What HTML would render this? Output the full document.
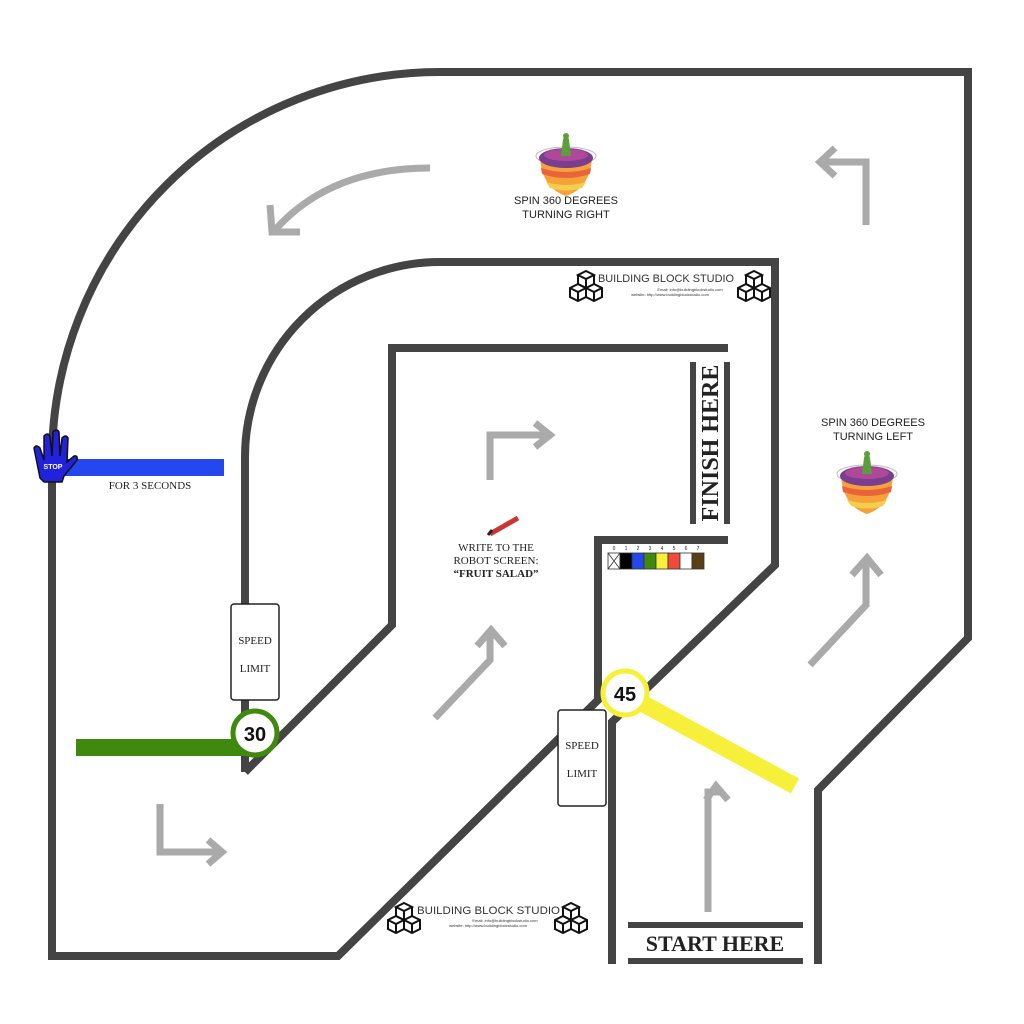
<!DOCTYPE html>
<html><head><meta charset="utf-8"><style>
html,body{margin:0;padding:0;background:#fff;}
svg{display:block;}
.s{font-family:"Liberation Sans",sans-serif;}
.r{font-family:"Liberation Serif",serif;}
</style></head><body>
<svg width="1024" height="1024" viewBox="0 0 1024 1024" xmlns="http://www.w3.org/2000/svg" class="s">
<defs>
<g id="spin">
  <ellipse cx="0" cy="8" rx="30" ry="9" fill="none" stroke="#bbb" stroke-width="1"/>
  <path d="M-26,10 Q-24,40 0,48 Q24,40 26,10 Z" fill="#f6a23a"/>
  <path d="M-25,20 Q0,28 25,20 L24,26 Q0,34 -24,26 Z" fill="#e9643a"/>
  <path d="M-20,34 Q0,40 20,34 L16,40 Q0,45 -16,40 Z" fill="#f4cf4e"/>
  <ellipse cx="0" cy="10" rx="27" ry="10" fill="#7a3d8f"/>
  <ellipse cx="0" cy="7" rx="22" ry="6" fill="#b0489a"/>
  <path d="M-5,8 L-3,-8 Q0,-20 3,-8 L5,8 Z" fill="#5aa03a"/>
  <circle cx="0" cy="-12" r="3" fill="#5aa03a"/>
</g>
<g id="cube" fill="none" stroke="#111" stroke-width="2">
  <path d="M0,-9 L8,-5 L0,-1 L-8,-5 Z M-8,-5 L-8,4 L0,8 L8,4 L8,-5 M0,-1 L0,8"/>
  <path d="M-8,4 L0,8 L0,17 L-8,21 L-16,17 L-16,8 Z M-16,8 L-8,12 L0,8 M-8,12 L-8,21"/>
  <path d="M8,4 L16,8 L16,17 L8,21 L0,17 M0,8 L8,12 L16,8 M8,12 L8,21"/>
</g>
</defs>

<g fill="none" stroke="#444" stroke-width="8" stroke-linejoin="miter">
  <path d="M52,960 L52,460 A388,388 0 0 1 440,72 L968,72 L968,638 L818,790 L818,964"/>
  <path d="M52,956 L338,956 L598,700 L598,540 L728,540"/>
  <path d="M245,772 L245,458 A195,195 0 0 1 440,262 L775,262 L775,565 L612,722 L612,964"/>
  <path d="M245,772 L392,625 L392,348 L728,348"/>
</g>
<rect x="690" y="362" width="6" height="162" fill="#444"/>
<rect x="724" y="362" width="6" height="162" fill="#444"/>
<text class="r" transform="translate(718,443) rotate(-90)" text-anchor="middle" font-weight="bold" font-size="24" fill="#222">FINISH HERE</text>
<rect x="628" y="922" width="175" height="6" fill="#444"/>
<rect x="628" y="958" width="175" height="6" fill="#444"/>
<text class="r" x="715" y="951" text-anchor="middle" font-weight="bold" font-size="22" fill="#222">START HERE</text>

<g fill="none" stroke="#aaa" stroke-width="7">
  <path d="M430,168 Q330,168 275,230"/><path d="M270,205 L272,232 L300,232"/>
  <path d="M866,225 L866,162 L820,162"/><path d="M835,148 L820,162 L835,176"/>
  <path d="M490,480 L490,435 L548,435"/><path d="M535,423 L550,435 L535,447"/>
  <path d="M435,718 L490,660 L490,632"/><path d="M477,646 L491,630 L505,646"/>
  <path d="M810,665 L866,605 L866,560"/><path d="M852,575 L867,558 L881,575"/>
  <path d="M708,912 L708,792 L722,792"/><path d="M706,800 L716,786 L728,800"/>
  <path d="M160,804 L160,852 L220,852"/><path d="M208,840 L222,852 L208,864"/>
</g>

<use href="#spin" x="566" y="148"/>
<text x="566" y="204" text-anchor="middle" font-size="11" fill="#222">SPIN 360 DEGREES</text>
<text x="566" y="218" text-anchor="middle" font-size="11" fill="#222">TURNING RIGHT</text>
<use href="#spin" x="867" y="466"/>
<text x="873" y="426" text-anchor="middle" font-size="11" fill="#222">SPIN 360 DEGREES</text>
<text x="873" y="440" text-anchor="middle" font-size="11" fill="#222">TURNING LEFT</text>

<rect x="60" y="459" width="164" height="17" fill="#2447ee"/>
<path d="M40,478 L34,448 Q36,444 40,448 L44,460 L44,436 Q48,432 50,436 L52,456 L53,432 Q57,428 59,432 L60,456 L62,438 Q66,434 68,438 L67,462 L74,456 Q78,455 77,460 L64,476 L62,482 L44,482 Z" fill="#2222dd" stroke="#111" stroke-width="1.5"/>
<text x="53" y="469" text-anchor="middle" font-size="7" font-weight="bold" fill="#fff">STOP</text>
<text class="r" x="150" y="489" text-anchor="middle" font-size="11" fill="#222">FOR 3 SECONDS</text>

<rect x="76" y="739" width="170" height="17" fill="#3f8a0e"/>
<rect x="231" y="604" width="48" height="96" rx="3" fill="#fff" stroke="#222" stroke-width="1.5"/>
<text class="r" x="255" y="644" text-anchor="middle" font-size="11" fill="#222">SPEED</text>
<text class="r" x="255" y="672" text-anchor="middle" font-size="11" fill="#222">LIMIT</text>
<circle cx="255" cy="733" r="22" fill="#fff" stroke="#3f8a0e" stroke-width="5"/>
<text x="255" y="741" text-anchor="middle" font-size="20" font-weight="bold" fill="#111">30</text>

<path d="M640,702 L795,786" stroke="#f7f03a" stroke-width="17"/>
<rect x="558" y="710" width="48" height="96" rx="3" fill="#fff" stroke="#222" stroke-width="1.5"/>
<text class="r" x="582" y="749" text-anchor="middle" font-size="11" fill="#222">SPEED</text>
<text class="r" x="582" y="777" text-anchor="middle" font-size="11" fill="#222">LIMIT</text>
<circle cx="625" cy="693" r="22" fill="#fff" stroke="#f7f03a" stroke-width="5"/>
<text x="625" y="701" text-anchor="middle" font-size="20" font-weight="bold" fill="#111">45</text>

<path d="M490,534 L518,518" stroke="#c33" stroke-width="5"/>
<path d="M488,535 L492,530" stroke="#222" stroke-width="3"/>
<text class="r" x="496" y="551" text-anchor="middle" font-size="11" fill="#222">WRITE TO THE</text>
<text class="r" x="496" y="564" text-anchor="middle" font-size="11" fill="#222">ROBOT SCREEN:</text>
<text class="r" x="496" y="577" text-anchor="middle" font-size="11" font-weight="bold" fill="#222">“FRUIT SALAD”</text>

<g stroke="#333" stroke-width="0.8">
<rect x="608" y="553" width="12" height="16" fill="#fff"/>
<rect x="620" y="553" width="12" height="16" fill="#000"/>
<rect x="632" y="553" width="12" height="16" fill="#2447ee"/>
<rect x="644" y="553" width="12" height="16" fill="#3f8a0e"/>
<rect x="656" y="553" width="12" height="16" fill="#f7f03a"/>
<rect x="668" y="553" width="12" height="16" fill="#f04a3a"/>
<rect x="680" y="553" width="12" height="16" fill="#fff"/>
<rect x="692" y="553" width="12" height="16" fill="#5a3f14"/>
<path d="M608,553 L620,569 M620,553 L608,569"/>
</g>
<g font-size="5" fill="#222" text-anchor="middle">
<text x="614" y="550">0</text><text x="626" y="550">1</text><text x="638" y="550">2</text><text x="650" y="550">3</text><text x="662" y="550">4</text><text x="674" y="550">5</text><text x="686" y="550">6</text><text x="698" y="550">7</text>
</g>

<use href="#cube" x="586" y="280"/><use href="#cube" x="754" y="280"/>
<text x="598" y="282" font-size="11" fill="#333" textLength="136" lengthAdjust="spacingAndGlyphs">BUILDING BLOCK STUDIO</text>
<text x="690" y="291" text-anchor="middle" font-size="4" fill="#333">Email: info@buildingblockstudio.com</text>
<text x="670" y="296" text-anchor="middle" font-size="4" fill="#333">website: http://www.buildingblockstudio.com</text>
<use href="#cube" x="404" y="912"/><use href="#cube" x="571" y="912"/>
<text x="417" y="914" font-size="11" fill="#333" textLength="143" lengthAdjust="spacingAndGlyphs">BUILDING BLOCK STUDIO</text>
<text x="505" y="922" text-anchor="middle" font-size="4" fill="#333">Email: info@buildingblockstudio.com</text>
<text x="488" y="927" text-anchor="middle" font-size="4" fill="#333">website: http://www.buildingblockstudio.com</text>
</svg>
</body></html>
